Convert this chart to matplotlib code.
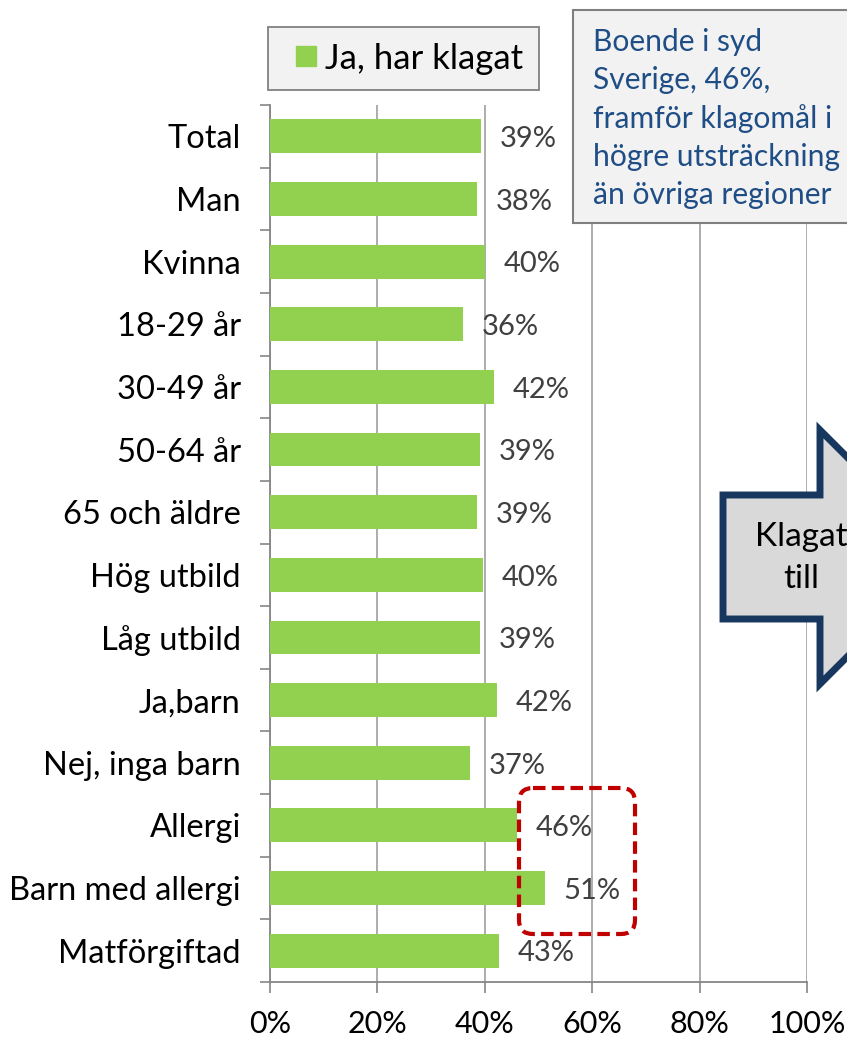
import matplotlib
matplotlib.use("Agg")
import matplotlib.pyplot as plt
from matplotlib.patches import Polygon, FancyBboxPatch, Rectangle
from matplotlib.lines import Line2D
from matplotlib.transforms import Affine2D
from matplotlib.ticker import FixedLocator

categories = ["Total", "Man", "Kvinna", "18-29 år", "30-49 år", "50-64 år",
              "65 och äldre", "Hög utbild", "Låg utbild", "Ja,barn",
              "Nej, inga barn", "Allergi", "Barn med allergi", "Matförgiftad"]
values = [39.3, 38.5, 40.0, 35.9, 41.7, 39.1, 38.6, 39.6, 39.1, 42.2, 37.2, 46.0, 51.2, 42.6]
value_labels = ["39%", "38%", "40%", "36%", "42%", "39%", "39%", "40%", "39%",
                "42%", "37%", "46%", "51%", "43%"]
series_name = "Ja, har klagat"
xticks = [0, 20, 40, 60, 80, 100]
xtick_labels = ["0%", "20%", "40%", "60%", "80%", "100%"]
note_text = "Boende i syd\nSverige, 46%,\nframför klagomål i\nhögre utsträckning\nän övriga regioner"
arrow_text = "Klagat\ntill"

GREEN = "#92D050"
FONT = ["Lato", "DejaVu Sans"]
plt.rcParams["font.family"] = FONT

W, H = 847, 1039
fig = plt.figure(figsize=(W / 100, H / 100), dpi=100)
px = Affine2D().scale(1 / W, -1 / H).translate(0, 1) + fig.transFigure

ax = fig.add_axes([270 / W, 1 - 982 / H, (807 - 270) / W, (982 - 105) / H])

n = len(categories)
ypos = list(range(n))
bars = ax.barh(ypos, values, height=0.54, color=GREEN, label=series_name, zorder=3)
ax.set_ylim(n - 0.5, -0.5)
ax.set_xlim(0, 100)

for b, lab in zip(bars, value_labels):
    ax.annotate(lab, (b.get_width(), b.get_y() + b.get_height() / 2),
                xytext=(13.5, -2), textcoords="offset points",
                ha="left", va="center", fontsize=21, color="#404040", zorder=4)

ax.set_yticks(ypos)
ax.set_yticklabels(categories)
ax.yaxis.set_minor_locator(FixedLocator([i - 0.5 for i in range(n + 1)]))
ax.tick_params(axis="y", which="major", length=0, pad=21, labelsize=23.5, labelcolor="black")
ax.tick_params(axis="y", which="minor", length=7, width=1.2, color="#868686")

ax.set_xticks(xticks)
ax.set_xticklabels(xtick_labels)
ax.tick_params(axis="x", which="major", length=8, width=1.2, color="#868686",
               pad=12.5, labelsize=22, labelcolor="black")

ax.grid(axis="x", color="#A6A6A6", linewidth=1.3, zorder=0)
ax.set_axisbelow(True)
for s in ["top", "right"]:
    ax.spines[s].set_visible(False)
for s in ["left", "bottom"]:
    ax.spines[s].set_color("#868686")
    ax.spines[s].set_linewidth(1.3)

# legend
handle = Line2D([], [], marker="s", markersize=15, linestyle="none",
                markerfacecolor=GREEN, markeredgecolor=GREEN)
leg = fig.legend(handles=[handle], labels=[series_name], loc="upper left",
                 bbox_to_anchor=(268 / W, 1 - 27 / H), fontsize=25,
                 frameon=True, fancybox=False, edgecolor="#808080", facecolor="#F2F2F2",
                 framealpha=1, handlelength=1.3, handletextpad=-0.1,
                 borderpad=0.45, borderaxespad=0, numpoints=1)
leg.get_frame().set_linewidth(1.3)

# note box
fig.patches.append(Rectangle((573, 10), 300, 213, transform=px, facecolor="#F2F2F2",
                             edgecolor="#7F7F7F", linewidth=1.5, zorder=5))
fig.text(593, 28, note_text, transform=px, ha="left", va="top", fontsize=21.6,
         color="#1F4E86", linespacing=1.43, zorder=6)

# block arrow
arrow_pts = [(723, 495), (820, 495), (820, 430), (947, 557), (820, 684), (820, 619), (723, 619)]
fig.patches.append(Polygon(arrow_pts, closed=True, transform=px, facecolor="#D9D9D9",
                           edgecolor="#17375E", linewidth=5, joinstyle="miter", zorder=5))
fig.text(801, 558, arrow_text, transform=px, ha="center", va="center", fontsize=24,
         color="black", linespacing=1.5, zorder=6)

# red dashed rounded box
fig.patches.append(FancyBboxPatch((519, 788), 116, 146, transform=px,
                                  boxstyle="round,pad=0,rounding_size=14",
                                  facecolor="none", edgecolor="#C00000", linewidth=3,
                                  linestyle=(0, (3, 1.5)), zorder=6))

fig.savefig("out.png", dpi=100)
